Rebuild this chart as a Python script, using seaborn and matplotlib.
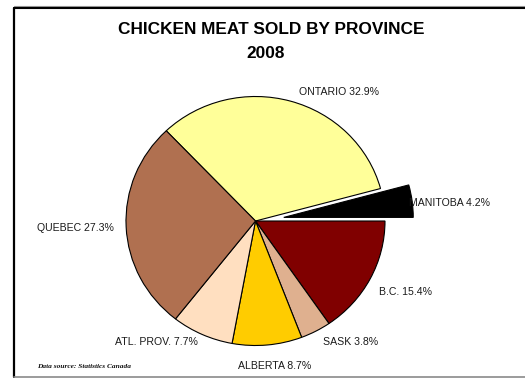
import matplotlib
matplotlib.use("Agg")
import matplotlib.pyplot as plt
from matplotlib.lines import Line2D
import seaborn as sns

# Chicken meat sold by province, 2008 (share of total, %)
provinces = ["ONTARIO", "MANITOBA", "B.C.", "SASK", "ALBERTA", "ATL. PROV.", "QUEBEC"]
shares = [32.9, 4.2, 15.4, 3.8, 8.7, 7.7, 27.3]
explode_frac = [0, 0.22, 0, 0, 0, 0, 0]
slice_colors = ["#FFFF99", "#000000", "#800000", "#DFB08F", "#FFCC00", "#FFDFC0", "#B07050"]

sns.set_theme(style="white")
plt.rcParams["font.family"] = ["Liberation Sans", "DejaVu Sans"]

W, H = 525, 378
fig = plt.figure(figsize=(W / 100, H / 100), dpi=100)
fig.patch.set_facecolor("white")
fig.patch.set_edgecolor("none")
fig.patch.set_linewidth(0)
ax = fig.add_axes([0, 0, 1, 1])

# pie geometry in pixels (slightly wider than tall)
cx, cy = 255.5, 221.0
rx, ry = 129.5, 124.5
yscale = rx / ry

palette = sns.color_palette(slice_colors)
wedges, _ = ax.pie(
    shares,
    explode=[e * rx for e in explode_frac],  # offsets are in data units
    colors=palette,
    startangle=133.56,
    counterclock=False,
    radius=rx,
    center=(cx, (H - cy) * yscale),
    wedgeprops=dict(edgecolor="black", linewidth=0.8),
)
ax.set_xlim(0, W)
ax.set_ylim(0, H * yscale)
ax.set_aspect("auto")
ax.set_axis_off()
for s in ax.spines.values():
    s.set_visible(False)


def px(x, y):
    return x / W, (H - y) / H


# category labels: name plus share
label_pos = {
    "ONTARIO": (339, 92, "center"),
    "MANITOBA": (409, 203, "left"),
    "B.C.": (379, 292, "left"),
    "SASK": (323, 342, "left"),
    "ALBERTA": (275, 366, "center"),
    "ATL. PROV.": (198, 342, "right"),
    "QUEBEC": (114, 228, "right"),
}
for name, val in zip(provinces, shares):
    x, y, ha = label_pos[name]
    fig.text(*px(x, y), f"{name} {val:.1f}%", ha=ha, va="center",
             fontsize=7.6, color="#1a1a1a", zorder=5)

fig.text(*px(271, 29), "CHICKEN MEAT SOLD BY PROVINCE", ha="center", va="center",
         fontsize=12.4, fontweight="bold", color="black")
fig.text(*px(266, 54), "2008", ha="center", va="center",
         fontsize=12.4, fontweight="bold", color="black")

fig.text(*px(37, 366), "Data source: Statistics Canada", ha="left", va="center",
         fontsize=5.3, fontweight="bold", fontstyle="italic",
         family=["Liberation Serif", "DejaVu Serif"], color="#111111")

# chart frame: top and left rules, grey baseline
fx0, fy0 = px(14, 7.5)
fig.add_artist(Line2D([fx0, 1.0], [fy0 + 1.2 / H, fy0 + 1.2 / H], color="#9a9a9a", lw=0.8))
fig.add_artist(Line2D([fx0, 1.0], [fy0, fy0], color="black", lw=1.5))
fig.add_artist(Line2D([fx0, fx0], [fy0, px(0, 377)[1]], color="black", lw=1.6))
fig.add_artist(Line2D([fx0, 1.0], [px(0, 376.5)[1]] * 2, color="#8a8a8a", lw=1.2))

fig.savefig("out.png", dpi=100, facecolor="white", edgecolor="none")
